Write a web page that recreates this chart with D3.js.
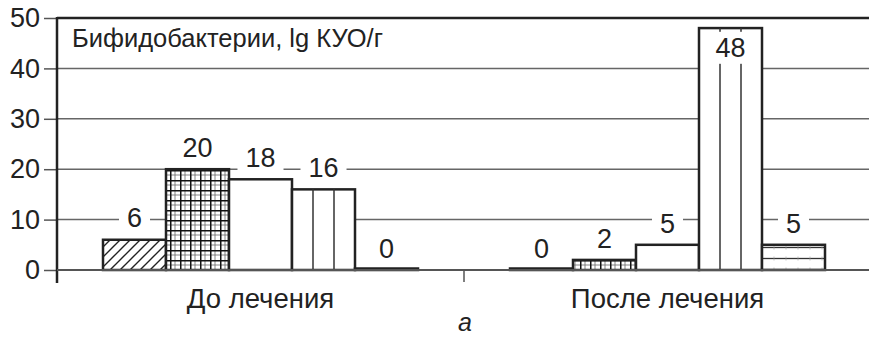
<!DOCTYPE html>
<html>
<head>
<meta charset="utf-8">
<script src="https://cdn.jsdelivr.net/npm/d3@7"></script>
<style>
  body { margin: 0; background: #fff; }
  text { font-family: "Liberation Sans", Arial, sans-serif; fill: #222; }
</style>
</head>
<body>
<div id="chart"></div>
<script>
// data
const groups = ["До лечения", "После лечения"];
const seriesNames = ["s1", "s2", "s3", "s4", "s5"];
const before = [6, 20, 18, 16, 0];
const after = [0, 2, 5, 48, 5];
const yTicks = [0, 10, 20, 30, 40, 50];
const chartTitle = "Бифидобактерии, lg КУО/г";
const caption = "а";

function init() {
  const w = 869;
  const h = 338;
  const left = 57, right = 871, top = 18, bottom = 270;

  const svg = d3.select("#chart").append("svg")
    .attr("width", w).attr("height", h);

  const defs = svg.append("defs");

  // diagonal hatch
  const diag = defs.append("pattern").attr("id", "diag")
    .attr("patternUnits", "userSpaceOnUse").attr("width", 10).attr("height", 10);
  diag.append("path").attr("d", "M0,10 L10,0 M-5,5 L5,-5 M5,15 L15,5")
    .attr("stroke", "#222").attr("stroke-width", 1.4);

  // dense grid
  const grid = defs.append("pattern").attr("id", "grid")
    .attr("patternUnits", "userSpaceOnUse").attr("width", 10).attr("height", 10);
  grid.append("rect").attr("width", 10).attr("height", 10).attr("fill", "#fff");
  grid.append("path").attr("d", "M0,5 H10 M5,0 V10")
    .attr("stroke", "#666").attr("stroke-width", 0.8);
  grid.append("path").attr("d", "M0,0.5 H10 M0.5,0 V10")
    .attr("stroke", "#111").attr("stroke-width", 2);

  // horizontal lines
  const horiz = defs.append("pattern").attr("id", "horiz")
    .attr("patternUnits", "userSpaceOnUse").attr("width", 12).attr("height", 11);
  horiz.append("rect").attr("width", 12).attr("height", 11).attr("fill", "#fff");
  horiz.append("path").attr("d", "M0,5.5 H12").attr("stroke", "#333").attr("stroke-width", 1.3);
  horiz.append("path").attr("d", "M6,3.5 V7.5").attr("stroke", "#999").attr("stroke-width", 0.6);

  const fills = ["url(#diag)", "url(#grid)", "#fff", "#fff", "url(#horiz)"];

  const y = d3.scaleLinear().domain([0, 50]).range([bottom, top]);
  const x0 = d3.scaleBand().domain(groups).range([left, right]);
  const gap = 46;
  const x1 = d3.scaleBand().domain(seriesNames).range([gap, x0.bandwidth() - gap]);

  // gridlines
  svg.append("g").selectAll("line")
    .data(yTicks.filter((d) => d > 0 && d < 50))
    .enter().append("line")
    .attr("x1", left).attr("x2", w)
    .attr("y1", (d) => y(d)).attr("y2", (d) => y(d))
    .attr("stroke", "#666").attr("stroke-width", 1.5);

  // top frame line
  svg.append("line")
    .attr("x1", left).attr("x2", w).attr("y1", y(50)).attr("y2", y(50))
    .attr("stroke", "#222").attr("stroke-width", 2.5);

  const rows = [];
  groups.forEach((g, gi) => {
    const vals = gi === 0 ? before : after;
    vals.forEach((v, si) => rows.push({ group: g, s: seriesNames[si], si: si, v: v }));
  });

  const bars = svg.append("g").selectAll("g.bar")
    .data(rows).enter().append("g").attr("class", "bar");

  bars.append("rect")
    .attr("x", (d) => x0(d.group) + x1(d.s))
    .attr("width", x1.bandwidth())
    .attr("y", (d) => y(d.v) - (d.v === 0 ? 1.5 : 0))
    .attr("height", (d) => Math.max(y(0) - y(d.v), 1.5))
    .attr("fill", (d) => (d.v === 0 ? "#222" : fills[d.si]))
    .attr("stroke", "#222").attr("stroke-width", 2.5);

  // vertical lines for the 4th series
  bars.filter((d) => d.si === 3 && d.v > 0).each(function (d) {
    const bx = x0(d.group) + x1(d.s);
    const bw = x1.bandwidth();
    [1, 2].forEach((k) => {
      d3.select(this).append("line")
        .attr("x1", bx + (bw * k) / 3).attr("x2", bx + (bw * k) / 3)
        .attr("y1", y(d.v)).attr("y2", y(0))
        .attr("stroke", "#333").attr("stroke-width", 1.5);
    });
  });

  // value labels with white box
  const labels = svg.append("g").selectAll("g.lbl")
    .data(rows).enter().append("g").attr("class", "lbl")
    .attr("transform", (d) => {
      const cx = x0(d.group) + x1(d.s) + x1.bandwidth() / 2;
      let cy = y(d.v) - 22;
      if (cy < top + 12) cy = y(d.v) + 19;
      return "translate(" + cx + "," + cy + ")";
    });
  labels.append("rect").attr("fill", "#fff");
  labels.append("text")
    .attr("text-anchor", "middle").attr("dy", "0.36em")
    .attr("font-size", "27px")
    .text((d) => d.v);
  labels.each(function () {
    const bb = d3.select(this).select("text").node().getBBox();
    d3.select(this).select("rect")
      .attr("x", bb.x - 8).attr("width", bb.width + 16)
      .attr("y", bb.y - 1).attr("height", bb.height + 2);
  });

  // y axis
  const yAxis = svg.append("g").attr("transform", "translate(" + left + ",0)")
    .call(d3.axisLeft(y).tickValues(yTicks).tickSize(13).tickPadding(4));
  yAxis.select(".domain").remove();
  yAxis.selectAll(".tick line").attr("stroke", "#555").attr("stroke-width", 1.5);
  yAxis.selectAll("text").attr("font-size", "27px").attr("fill", "#222")
    .attr("font-family", "Liberation Sans, Arial, sans-serif");
  svg.append("line")
    .attr("x1", left).attr("x2", left).attr("y1", top - 1).attr("y2", bottom + 13)
    .attr("stroke", "#222").attr("stroke-width", 2.5);

  // x axis
  svg.append("line")
    .attr("x1", left).attr("x2", w).attr("y1", bottom).attr("y2", bottom)
    .attr("stroke", "#555").attr("stroke-width", 2);
  svg.append("g").selectAll("line")
    .data(groups).enter().append("line")
    .attr("x1", (d) => x0(d) + x0.bandwidth()).attr("x2", (d) => x0(d) + x0.bandwidth())
    .attr("y1", bottom).attr("y2", bottom + 12)
    .attr("stroke", "#555").attr("stroke-width", 1.5);
  svg.append("g").selectAll("text")
    .data(groups).enter().append("text")
    .attr("x", (d) => x0(d) + x0.bandwidth() / 2)
    .attr("y", 298).attr("dy", "0.36em")
    .attr("text-anchor", "middle").attr("font-size", "27.5px")
    .text((d) => d);

  // title inside plot
  svg.append("text")
    .attr("x", 72).attr("y", 38).attr("dy", "0.36em")
    .attr("font-size", "25.5px")
    .text(chartTitle);

  // caption
  svg.append("text")
    .attr("x", 465).attr("y", 322).attr("dy", "0.36em")
    .attr("text-anchor", "middle").attr("font-size", "25px")
    .attr("font-style", "italic")
    .text(caption);
}
window.addEventListener("load", init);
</script>
</body>
</html>
